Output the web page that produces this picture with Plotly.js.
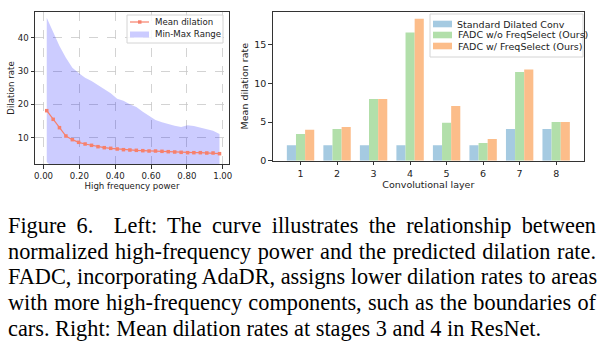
<!DOCTYPE html>
<html>
<head>
<meta charset="utf-8">
<script src="https://cdn.plot.ly/plotly-3.0.1.min.js"></script>
<style>
  html, body { margin: 0; padding: 0; background: #fff; }
  #wrap { position: relative; width: 603px; height: 358px; overflow: hidden; }
  #chart { position: absolute; left: 0; top: 0; width: 603px; height: 358px; }
  #caption { position: absolute; left: 8px; top: 213px; width: 588px;
    font-family: "Liberation Serif", "Times New Roman", serif; font-size: 22.3px;
    line-height: 25.7px; color: #000; }
  #caption div { text-align: justify; text-align-last: justify; white-space: nowrap; }
  #caption div.last { text-align: left; text-align-last: left; }
</style>
</head>
<body>
<div id="wrap">
  <div id="chart"></div>
  <div id="caption"></div>
</div>
<script>
// ---- Left panel data ----
const hfPower = [0.018, 0.054, 0.089, 0.125, 0.161, 0.196, 0.232, 0.268, 0.304, 0.339,
                 0.375, 0.411, 0.446, 0.482, 0.518, 0.554, 0.589, 0.625, 0.661, 0.696,
                 0.732, 0.768, 0.804, 0.839, 0.875, 0.911, 0.946, 0.982];
const meanDilation = [18.1, 15.5, 13.0, 10.5, 9.4, 8.6, 8.1, 7.7, 7.3, 7.0,
                      6.8, 6.6, 6.4, 6.3, 6.2, 6.1, 6.0, 6.0, 5.9, 5.8,
                      5.7, 5.6, 5.5, 5.5, 5.5, 5.4, 5.4, 5.2];
const maxDilation = [46.0, 41.5, 37.5, 34.0, 31.0, 29.4, 28.0, 27.0, 25.8, 24.6,
                     23.3, 21.7, 21.1, 20.0, 19.2, 17.8, 16.6, 15.3, 14.6, 14.0,
                     13.6, 13.2, 13.7, 13.5, 13.1, 12.6, 12.1, 11.1];
const minDilation = [2.7, 1, 1, 1, 1, 1, 1, 1, 1, 1,
                     1, 1, 1, 1, 1, 1, 1, 1, 1, 1,
                     1, 1, 1, 1, 1, 1, 1, 1];
const leftXTicks = [0, 0.2, 0.4, 0.6, 0.8, 1.0];
const leftYTicks = [10, 20, 30, 40];
const leftLegendNames = ['Mean dilation', 'Min-Max Range'];

// ---- Right panel data ----
const layers = [1, 2, 3, 4, 5, 6, 7, 8];
const standardConv = [2.0, 2.0, 2.0, 2.0, 2.0, 2.0, 4.1, 4.1];
const fadcNoFreq   = [3.45, 4.1, 8.0, 16.6, 4.9, 2.3, 11.5, 5.0];
const fadcFreq     = [4.0, 4.35, 8.0, 18.4, 7.1, 2.8, 11.8, 5.0];
const rightYTicks = [0, 5, 10, 15];
const seriesNames = ['Standard Dilated Conv', 'FADC w/o FreqSelect (Ours)', 'FADC w/ FreqSelect (Ours)'];

const captionLines = [
  "Figure 6.\u00a0 Left: The curve illustrates the relationship between",
  "normalized high-frequency power and the predicted dilation rate.",
  "FADC, incorporating AdaDR, assigns lower dilation rates to areas",
  "with more high-frequency components, such as the boundaries of",
  "cars. Right: Mean dilation rates at stages 3 and 4 in ResNet."
];

// ---- styles ----
const W = 603, H = 358;
const px = v => v / W, py = v => 1 - v / H;
const F = '"DejaVu Sans", sans-serif';
const lineColor = '#f7806c';
const bandColor = 'rgba(0,0,255,0.2)';
const barColors = ['#a5cae1', '#b2dfaa', '#fcbd8a'];

const traces = [
  { x: hfPower, y: minDilation, type: 'scatter', mode: 'lines', line: {width: 0, color: 'rgba(0,0,0,0)'},
    showlegend: false, hoverinfo: 'skip', xaxis: 'x', yaxis: 'y' },
  { x: hfPower, y: maxDilation, type: 'scatter', mode: 'lines', fill: 'tonexty',
    fillcolor: bandColor, line: {width: 0, color: bandColor},
    name: leftLegendNames[1], showlegend: false, xaxis: 'x', yaxis: 'y' },
  { x: hfPower, y: meanDilation, type: 'scatter', mode: 'lines+markers',
    line: {color: lineColor, width: 1.2}, marker: {color: lineColor, size: 3.5, symbol: 'square'},
    name: leftLegendNames[0], showlegend: false, xaxis: 'x', yaxis: 'y' },
  { x: layers, y: standardConv, type: 'bar', name: seriesNames[0], showlegend: false,
    marker: {color: barColors[0], line: {width: 0}}, xaxis: 'x2', yaxis: 'y2' },
  { x: layers, y: fadcNoFreq, type: 'bar', name: seriesNames[1], showlegend: false,
    marker: {color: barColors[1], line: {width: 0}}, xaxis: 'x2', yaxis: 'y2' },
  { x: layers, y: fadcFreq, type: 'bar', name: seriesNames[2], showlegend: false,
    marker: {color: barColors[2], line: {width: 0}}, xaxis: 'x2', yaxis: 'y2' }
];

const axisCommon = {
  showline: true, mirror: true, linecolor: '#333', linewidth: 1,
  ticks: 'outside', ticklen: 3.5, tickcolor: '#333', zeroline: false
};

// ---- legend boxes (drawn in paper coordinates) ----
const shapes = [], annotations = [];
function legendBox(x0, y0, x1, y1) {
  shapes.push({type: 'rect', xref: 'paper', yref: 'paper', x0: px(x0), x1: px(x1), y0: py(y1), y1: py(y0),
    line: {color: '#d4d4d4', width: 1}, fillcolor: 'rgba(255,255,255,0.85)', layer: 'above'});
}
function legendText(x, y, text, size) {
  annotations.push({xref: 'paper', yref: 'paper', x: px(x), y: py(y), text: text, showarrow: false,
    xanchor: 'left', yanchor: 'middle', font: {size: size, family: F, color: '#222'}});
}
// left legend
legendBox(127, 15, 223, 43);
shapes.push({type: 'line', xref: 'paper', yref: 'paper', x0: px(130), x1: px(149), y0: py(22), y1: py(22),
  line: {color: lineColor, width: 1.2}, layer: 'above'});
shapes.push({type: 'rect', xref: 'paper', yref: 'paper', x0: px(138), x1: px(141.5), y0: py(23.7), y1: py(20.3),
  line: {width: 0}, fillcolor: lineColor, layer: 'above'});
shapes.push({type: 'rect', xref: 'paper', yref: 'paper', x0: px(130), x1: px(149), y0: py(37.5), y1: py(31.5),
  line: {width: 0}, fillcolor: bandColor, layer: 'above'});
legendText(153, 22, leftLegendNames[0], 8.6);
legendText(153, 34.5, leftLegendNames[1], 8.6);
// right legend
legendBox(430, 14, 583, 57);
[24, 35, 46].forEach((yy, i) => {
  shapes.push({type: 'rect', xref: 'paper', yref: 'paper', x0: px(433), x1: px(452), y0: py(yy + 3.3), y1: py(yy - 3.3),
    line: {width: 0}, fillcolor: barColors[i], layer: 'above'});
  legendText(455.5, yy, seriesNames[i], 9.5);
});

const layout = {
  width: W, height: H,
  margin: {l: 0, r: 0, t: 0, b: 0},
  paper_bgcolor: 'rgba(0,0,0,0)', plot_bgcolor: '#fff',
  font: {family: F, color: '#222'},
  showlegend: false,
  barmode: 'group', bargap: 0.25, bargroupgap: 0,
  xaxis: Object.assign({}, axisCommon, {
    domain: [px(35), px(229)], range: [-0.0475, 1.035], tickvals: leftXTicks, tickformat: '.2f',
    tickfont: {size: 8.6}, showgrid: true, gridcolor: '#c8c8c8', griddash: 'dash', gridwidth: 0.8,
    title: {text: 'High frequency power', font: {size: 8.6}, standoff: 3}, anchor: 'y'
  }),
  yaxis: Object.assign({}, axisCommon, {
    domain: [py(164), py(12)], range: [2.1, 47.7], tickvals: leftYTicks,
    tickfont: {size: 8.6}, showgrid: true, gridcolor: '#c8c8c8', griddash: 'dash', gridwidth: 0.8,
    title: {text: 'Dilation rate', font: {size: 8.6}, standoff: 1}, anchor: 'x'
  }),
  xaxis2: Object.assign({}, axisCommon, {
    domain: [px(272.7), px(584)], range: [0.2375, 8.7625], tickvals: layers,
    tickfont: {size: 9.5}, showgrid: false,
    title: {text: 'Convolutional layer', font: {size: 9.5}, standoff: 3}, anchor: 'y2'
  }),
  yaxis2: Object.assign({}, axisCommon, {
    domain: [py(160.7), py(11.7)], range: [0, 19.3], tickvals: rightYTicks,
    tickfont: {size: 9.5}, showgrid: false,
    title: {text: 'Mean dilation rate', font: {size: 9.5}, standoff: 3}, anchor: 'x2'
  }),
  shapes: shapes,
  annotations: annotations
};

Plotly.newPlot('chart', traces, layout, {displayModeBar: false, staticPlot: true});

const cap = document.getElementById('caption');
captionLines.forEach((t, i) => {
  const d = document.createElement('div');
  d.textContent = t;
  if (i === captionLines.length - 1) d.className = 'last';
  cap.appendChild(d);
});
</script>
</body>
</html>
